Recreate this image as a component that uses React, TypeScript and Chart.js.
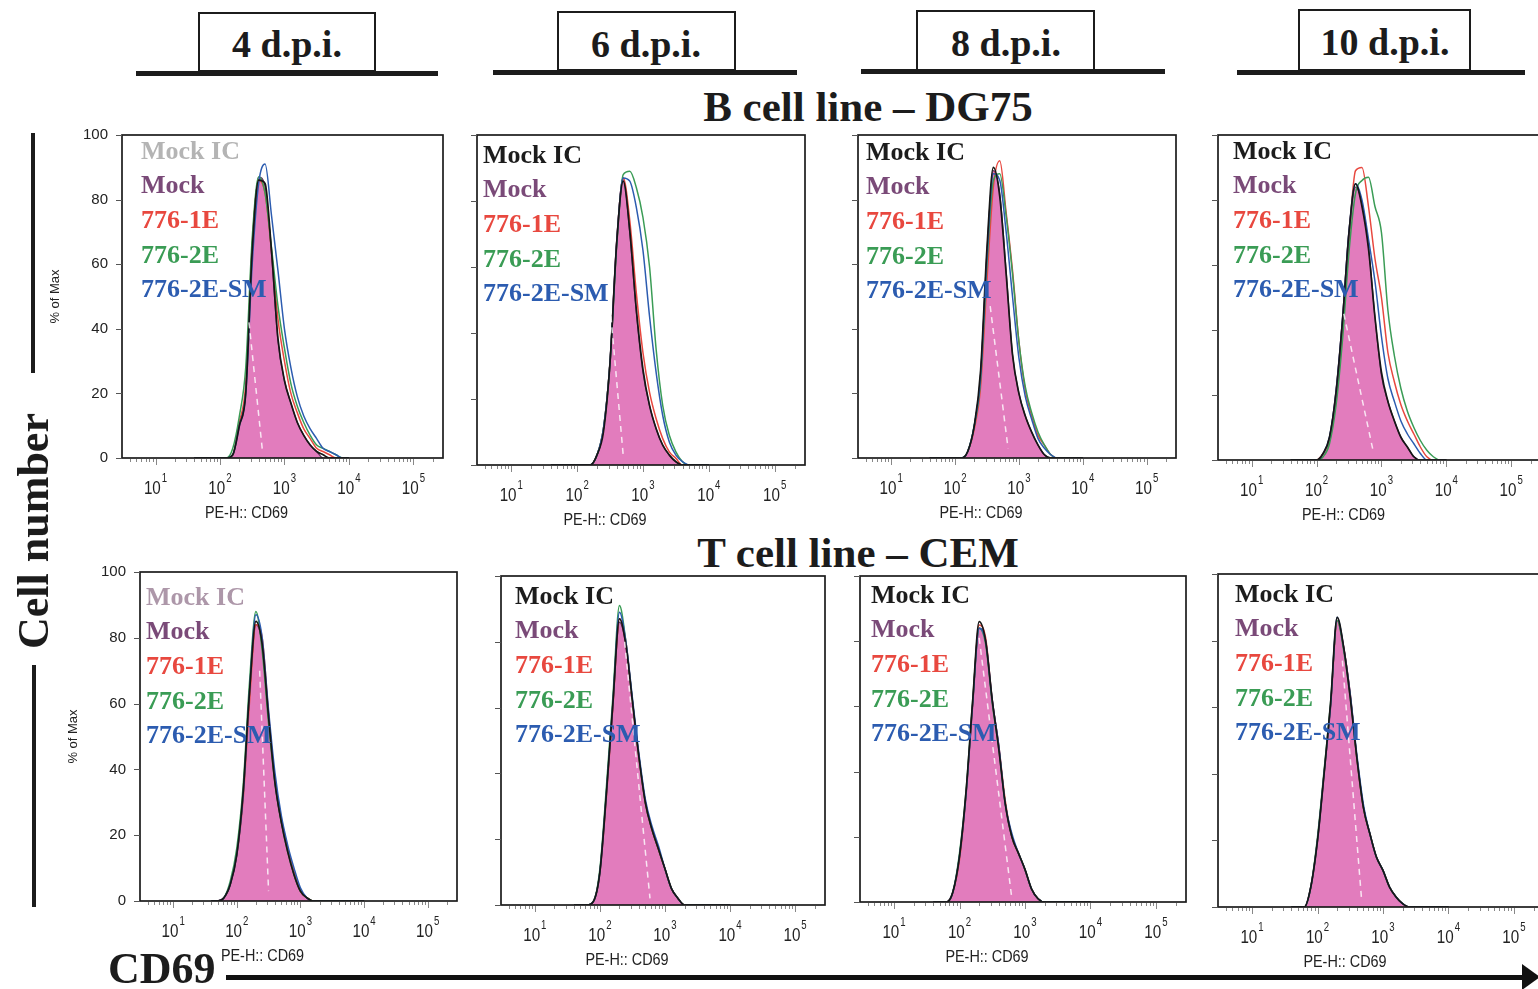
import React, { useEffect, useRef } from 'react';
import { Chart, registerables } from 'chart.js';
Chart.register(...registerables);

// ---------- data ----------
// histogram bin centres (CD69 fluorescence, log spaced)
const XS = [40, 50, 63, 79, 100, 126, 158, 200, 251, 316, 398, 501, 631, 794, 1000, 1259, 1585, 1995, 2512, 3162, 3981, 5012, 6310, 7943, 10000];
const SERIES = ['Mock IC', 'Mock', '776-1E', '776-2E', '776-2E-SM'];
const Y_TICKS = [0, 20, 40, 60, 80, 100];
const X_DECADES = [10, 100, 1000, 10000, 100000];
const X_EXPONENTS = ['1', '2', '3', '4', '5'];
const DAYS = ['4 d.p.i.', '6 d.p.i.', '8 d.p.i.', '10 d.p.i.'];
const ROW_TITLES = ['B cell line – DG75', 'T cell line – CEM'];
const X_TITLE = 'PE-H:: CD69';
const Y_TITLE = '% of Max';

// B cell line DG75
const B4_IC = [0, 0, 0, 0, 0, 0, 1, 10, 20, 64, 86, 85, 64, 37, 24, 17, 11, 7, 4, 2, 1, 0, 0, 0, 0];
const B4_MOCK = [0, 0, 0, 0, 0, 0, 1, 11, 21, 66, 87, 84, 63, 36, 24, 17, 11, 7, 4, 2, 0, 0, 0, 0, 0];
const B4_E1 = [0, 0, 0, 0, 0, 0, 1, 11, 23, 66, 86, 82, 64, 43, 30, 20, 14, 9, 6, 3, 2, 1, 0, 0, 0];
const B4_E2 = [0, 0, 0, 0, 0, 0, 3, 13, 28, 68, 87, 82, 65, 47, 34, 23, 16, 11, 7, 4, 3, 2, 1, 0, 0];
const B4_SM = [0, 0, 0, 0, 0, 0, 1, 10, 20, 60, 85, 91, 75, 58, 40, 28, 19, 13, 9, 6, 3, 2, 1, 0, 0];
const B4_MED = [[282, 42], [457, 2]];

const B6_IC = [0, 0, 0, 0, 0, 0, 0, 3, 10, 31, 67, 86, 71, 47, 29, 18, 11, 6, 3, 1, 0, 0, 0, 0, 0];
const B6_MOCK = [0, 0, 0, 0, 0, 0, 0, 3, 11, 32, 68, 87, 70, 46, 28, 18, 11, 6, 3, 1, 0, 0, 0, 0, 0];
const B6_E1 = [0, 0, 0, 0, 0, 0, 0, 3, 11, 31, 67, 87, 74, 52, 34, 22, 14, 8, 4, 2, 0, 0, 0, 0, 0];
const B6_E2 = [0, 0, 0, 0, 0, 0, 0, 3, 11, 31, 66, 88, 89, 84, 75, 60, 35, 18, 9, 4, 1, 0, 0, 0, 0];
const B6_SM = [0, 0, 0, 0, 0, 0, 0, 3, 11, 31, 67, 87, 86, 78, 65, 45, 28, 15, 7, 3, 1, 0, 0, 0, 0];
const B6_MED = [[295, 55], [501, 3]];

const B8_IC = [0, 0, 0, 0, 0, 0, 2, 10, 27, 65, 90, 81, 57, 32, 20, 13, 8, 4, 1, 0, 0, 0, 0, 0, 0];
const B8_MOCK = [0, 0, 0, 0, 0, 0, 2, 10, 26, 64, 89, 82, 58, 32, 20, 13, 8, 4, 1, 0, 0, 0, 0, 0, 0];
const B8_E1 = [0, 0, 0, 0, 0, 0, 2, 9, 22, 55, 84, 92, 76, 58, 36, 21, 13, 7, 4, 1, 0, 0, 0, 0, 0];
const B8_E2 = [0, 0, 0, 0, 0, 0, 2, 10, 24, 60, 86, 88, 75, 57, 36, 22, 14, 8, 4, 1, 0, 0, 0, 0, 0];
const B8_SM = [0, 0, 0, 0, 0, 0, 2, 10, 25, 62, 88, 86, 70, 50, 31, 19, 12, 6, 3, 1, 0, 0, 0, 0, 0];
const B8_MED = [[355, 47], [676, 3]];

const B10_IC = [0, 0, 0, 0, 0, 2, 7, 21, 43, 70, 85, 78, 65, 44, 27, 18, 12, 7, 4, 1, 0, 0, 0, 0, 0];
const B10_MOCK = [0, 0, 0, 0, 0, 2, 7, 22, 44, 71, 84, 79, 66, 44, 26, 18, 12, 7, 4, 1, 0, 0, 0, 0, 0];
const B10_E1 = [0, 0, 0, 0, 0, 2, 6, 19, 40, 68, 89, 90, 78, 62, 50, 33, 24, 17, 12, 8, 4, 1, 0, 0, 0];
const B10_E2 = [0, 0, 0, 0, 0, 1, 5, 17, 37, 64, 82, 86, 87, 78, 70, 46, 32, 22, 15, 10, 6, 3, 1, 0, 0];
const B10_SM = [0, 0, 0, 0, 0, 2, 7, 21, 43, 70, 85, 80, 68, 55, 38, 25, 18, 12, 8, 5, 2, 0, 0, 0, 0];
const B10_MED = [[263, 45], [759, 2]];

// T cell line CEM
const T4_IC = [0, 0, 1, 5, 14, 33, 63, 85, 78, 56, 36, 24, 15, 8, 3, 1, 0, 0, 0, 0, 0, 0, 0, 0, 0];
const T4_MOCK = [0, 0, 1, 5, 14, 32, 62, 84, 78, 56, 36, 24, 16, 8, 3, 1, 0, 0, 0, 0, 0, 0, 0, 0, 0];
const T4_E1 = [0, 0, 1, 5, 14, 31, 60, 84, 80, 57, 37, 25, 16, 9, 3, 1, 0, 0, 0, 0, 0, 0, 0, 0, 0];
const T4_E2 = [0, 0, 1, 6, 16, 35, 66, 88, 76, 54, 36, 24, 15, 8, 3, 1, 0, 0, 0, 0, 0, 0, 0, 0, 0];
const T4_SM = [0, 0, 1, 5, 14, 32, 63, 87, 80, 58, 39, 26, 17, 10, 4, 1, 0, 0, 0, 0, 0, 0, 0, 0, 0];
const T4_MED = [[229, 70], [316, 3]];

const T6_IC = [0, 0, 0, 1, 10, 34, 61, 87, 79, 62, 45, 31, 23, 17, 11, 5, 2, 0, 0, 0, 0, 0, 0, 0, 0];
const T6_MOCK = [0, 0, 0, 1, 10, 34, 60, 86, 79, 62, 45, 31, 23, 17, 11, 5, 2, 0, 0, 0, 0, 0, 0, 0, 0];
const T6_E1 = [0, 0, 0, 1, 10, 33, 60, 87, 80, 62, 45, 31, 23, 17, 11, 5, 2, 0, 0, 0, 0, 0, 0, 0, 0];
const T6_E2 = [0, 0, 0, 1, 11, 36, 63, 91, 80, 62, 45, 31, 23, 17, 11, 5, 2, 0, 0, 0, 0, 0, 0, 0, 0];
const T6_SM = [0, 0, 0, 1, 10, 34, 61, 89, 80, 63, 46, 32, 24, 18, 11, 5, 2, 0, 0, 0, 0, 0, 0, 0, 0];
const T6_MED = [[240, 80], [589, 2]];

const T8_IC = [0, 0, 0, 3, 14, 34, 61, 86, 80, 62, 47, 30, 20, 15, 10, 4, 1, 0, 0, 0, 0, 0, 0, 0, 0];
const T8_MOCK = [0, 0, 0, 3, 14, 33, 60, 84, 80, 62, 48, 30, 20, 15, 10, 4, 1, 0, 0, 0, 0, 0, 0, 0, 0];
const T8_E1 = [0, 0, 0, 3, 13, 33, 60, 85, 81, 62, 48, 31, 20, 15, 10, 4, 1, 0, 0, 0, 0, 0, 0, 0, 0];
const T8_E2 = [0, 0, 0, 3, 15, 34, 61, 84, 79, 61, 47, 30, 20, 15, 10, 4, 1, 0, 0, 0, 0, 0, 0, 0, 0];
const T8_SM = [0, 0, 0, 3, 14, 33, 60, 84, 80, 62, 48, 30, 21, 15, 10, 4, 1, 0, 0, 0, 0, 0, 0, 0, 0];
const T8_MED = [[200, 81], [631, 1]];

const T10_IC = [0, 0, 0, 6, 20, 40, 61, 87, 78, 63, 45, 30, 22, 15, 11, 6, 3, 1, 0, 0, 0, 0, 0, 0, 0];
const T10_MOCK = [0, 0, 0, 6, 20, 40, 60, 86, 78, 64, 45, 30, 22, 15, 11, 6, 3, 1, 0, 0, 0, 0, 0, 0, 0];
const T10_E1 = [0, 0, 0, 6, 20, 40, 60, 86, 78, 64, 45, 30, 22, 15, 11, 6, 3, 1, 0, 0, 0, 0, 0, 0, 0];
const T10_E2 = [0, 0, 0, 6, 21, 41, 61, 86, 77, 63, 45, 30, 22, 15, 11, 6, 3, 1, 0, 0, 0, 0, 0, 0, 0];
const T10_SM = [0, 0, 0, 6, 20, 40, 60, 87, 78, 64, 46, 31, 22, 15, 11, 6, 3, 1, 0, 0, 0, 0, 0, 0, 0];
const T10_MED = [[240, 74], [468, 3]];

// ---------- styling / layout ----------
const SERIF = '"Liberation Serif", "Times New Roman", serif';
const SANS = '"Liberation Sans", Arial, sans-serif';
const INK = '#1c1c1c';
const COL_MOCK_TEXT = '#7a4a78';
const COL_E1 = '#e8483f';
const COL_E2 = '#3a9c55';
const COL_SM = '#2c5cb0';
const COL_FILL = '#e27cbd';

const PANELS = [
  { box: [122, 135, 443, 458], legend: [141, 152], ic: '#b4b4b4', yLabels: true, d: [B4_IC, B4_MOCK, B4_E1, B4_E2, B4_SM, B4_MED] },
  { box: [477, 135, 805, 465], legend: [483, 156], ic: INK, yLabels: false, d: [B6_IC, B6_MOCK, B6_E1, B6_E2, B6_SM, B6_MED] },
  { box: [858, 135, 1176, 458], legend: [866, 153], ic: INK, yLabels: false, d: [B8_IC, B8_MOCK, B8_E1, B8_E2, B8_SM, B8_MED] },
  { box: [1218, 135, 1541, 460], legend: [1233, 152], ic: INK, yLabels: false, d: [B10_IC, B10_MOCK, B10_E1, B10_E2, B10_SM, B10_MED] },
  { box: [140, 572, 457, 901], legend: [146, 598], ic: '#ad97a9', yLabels: true, d: [T4_IC, T4_MOCK, T4_E1, T4_E2, T4_SM, T4_MED] },
  { box: [501, 576, 825, 905], legend: [515, 597], ic: INK, yLabels: false, d: [T6_IC, T6_MOCK, T6_E1, T6_E2, T6_SM, T6_MED] },
  { box: [860, 576, 1186, 902], legend: [871, 596], ic: INK, yLabels: false, d: [T8_IC, T8_MOCK, T8_E1, T8_E2, T8_SM, T8_MED] },
  { box: [1218, 574, 1544, 907], legend: [1235, 595], ic: INK, yLabels: false, d: [T10_IC, T10_MOCK, T10_E1, T10_E2, T10_SM, T10_MED] },
];

const HEADERS = [
  { box: [198, 12, 178, 60], bar: [136, 71, 302], cx: 287, base: 57 },
  { box: [557, 11, 179, 60], bar: [493, 70, 304], cx: 646, base: 57 },
  { box: [916, 10, 179, 61], bar: [861, 69, 304], cx: 1006, base: 56 },
  { box: [1298, 9, 173, 62], bar: [1237, 70, 288], cx: 1385, base: 55 },
];

const PAD = { left: 92, top: 12, right: 14, bottom: 74 };
const X_MIN = Math.pow(10, 0.48);
const X_MAX = Math.pow(10, 5.46);

const decor = {
  id: 'decor',
  afterDatasetsDraw(chart: any) {
    const { ctx, chartArea: a } = chart;
    ctx.save();
    ctx.strokeStyle = INK;
    ctx.lineWidth = 1.7;
    ctx.strokeRect(a.left, a.top, a.right - a.left, a.bottom - a.top);
    ctx.restore();
  },
  afterDraw(chart: any, _args: any, opts: any) {
    const { ctx, chartArea: a } = chart;
    const x = chart.scales.x;
    const y = chart.scales.y;
    ctx.save();
    // y tick marks
    ctx.strokeStyle = '#555';
    ctx.lineWidth = 1;
    Y_TICKS.forEach((v) => {
      const py = Math.round(y.getPixelForValue(v)) + 0.5;
      ctx.beginPath();
      ctx.moveTo(a.left - 6, py);
      ctx.lineTo(a.left, py);
      ctx.stroke();
    });
    if (opts.yLabels) {
      ctx.fillStyle = '#222';
      ctx.font = `15px ${SANS}`;
      ctx.textAlign = 'right';
      ctx.textBaseline = 'middle';
      Y_TICKS.forEach((v) => ctx.fillText(String(v), a.left - 14, y.getPixelForValue(v)));
      ctx.save();
      ctx.translate(a.left - 67, (a.top + a.bottom) / 2);
      ctx.rotate(-Math.PI / 2);
      ctx.textAlign = 'center';
      ctx.font = `13px ${SANS}`;
      ctx.fillText(Y_TITLE, 0, 0);
      ctx.restore();
    }
    // x tick marks (decades + minor)
    ctx.strokeStyle = '#888';
    for (let e = 0; e <= 5; e++) {
      for (let m = 1; m <= 9; m++) {
        const v = m * Math.pow(10, e);
        if (v < X_MIN || v > X_MAX) continue;
        const px = Math.round(x.getPixelForValue(v)) + 0.5;
        ctx.beginPath();
        ctx.moveTo(px, a.bottom + 1);
        ctx.lineTo(px, a.bottom + (m === 1 ? 7 : 4));
        ctx.stroke();
      }
    }
    // x tick labels 10^n
    ctx.fillStyle = '#222';
    ctx.textBaseline = 'alphabetic';
    ctx.textAlign = 'left';
    const sx = 0.8;
    X_DECADES.forEach((v, i) => {
      const px = x.getPixelForValue(v);
      ctx.font = `19px ${SANS}`;
      const w1 = ctx.measureText('10').width * sx;
      ctx.font = `12px ${SANS}`;
      const w2 = ctx.measureText(X_EXPONENTS[i]).width * sx;
      const start = px - (w1 + w2 + 1) / 2;
      ctx.save();
      ctx.translate(start, a.bottom + 36);
      ctx.scale(sx, 1);
      ctx.font = `19px ${SANS}`;
      ctx.fillText('10', 0, 0);
      ctx.restore();
      ctx.save();
      ctx.translate(start + w1 + 1, a.bottom + 24);
      ctx.scale(sx, 1);
      ctx.font = `12px ${SANS}`;
      ctx.fillText(X_EXPONENTS[i], 0, 0);
      ctx.restore();
    });
    // x title
    ctx.save();
    ctx.translate((a.left + a.right) / 2 + opts.titleShift, a.bottom + 56);
    ctx.scale(0.9, 1);
    ctx.font = `16px ${SANS}`;
    ctx.textAlign = 'center';
    ctx.textBaseline = 'middle';
    ctx.fillText(X_TITLE, 0, 0);
    ctx.restore();
    // legend texts
    ctx.font = `bold 26px ${SERIF}`;
    ctx.textAlign = 'left';
    ctx.textBaseline = 'middle';
    const colors = [opts.icColor, COL_MOCK_TEXT, COL_E1, COL_E2, COL_SM];
    SERIES.forEach((s, i) => {
      ctx.fillStyle = colors[i];
      ctx.fillText(s, a.left + opts.legendDx, a.top + opts.legendDy + i * 34.6);
    });
    ctx.restore();
  },
};

function pts(arr: number[]) {
  return XS.map((x, i) => ({ x, y: arr[i] }));
}

function Panel({ p }: { p: any }) {
  const ref = useRef<HTMLCanvasElement>(null);
  const [l, t, r, b] = p.box;
  const W = r - l + PAD.left + PAD.right;
  const H = b - t + PAD.top + PAD.bottom;
  useEffect(() => {
    const [ic, mock, e1, e2, sm, med] = p.d;
    const line = (data: any, color: string, order: number, width = 1.5) => ({
      data,
      borderColor: color,
      borderWidth: width,
      pointRadius: 0,
      fill: false,
      cubicInterpolationMode: 'monotone',
      order,
    });
    const chart = new Chart(ref.current as HTMLCanvasElement, {
      type: 'line',
      data: {
        datasets: [
          { label: SERIES[0], ...line(pts(ic), '#161616', 1, 1.7) },
          { label: SERIES[4], ...line(pts(sm), COL_SM, 2) },
          { label: SERIES[3], ...line(pts(e2), COL_E2, 3) },
          { label: SERIES[2], ...line(pts(e1), COL_E1, 4) },
          {
            label: SERIES[1],
            ...line(pts(mock), '#5a2e57', 5, 1.2),
            fill: 'origin',
            backgroundColor: COL_FILL,
          },
          {
            label: 'median',
            data: med.map((q: number[]) => ({ x: q[0], y: q[1] })),
            borderColor: 'rgba(255,255,255,0.8)',
            borderWidth: 1.5,
            borderDash: [6, 5],
            pointRadius: 0,
            fill: false,
            order: 0,
          },
        ] as any,
      },
      options: {
        animation: false,
        responsive: false,
        maintainAspectRatio: false,
        devicePixelRatio: 1,
        events: [],
        layout: { padding: PAD },
        scales: {
          x: { type: 'logarithmic', min: X_MIN, max: X_MAX, display: false },
          y: { type: 'linear', min: 0, max: 100, display: false },
        },
        plugins: {
          legend: { display: false },
          tooltip: { enabled: false },
          decor: {
            yLabels: p.yLabels,
            icColor: p.ic,
            legendDx: p.legend[0] - l,
            legendDy: p.legend[1] - t,
            titleShift: -36,
          },
        } as any,
      },
      plugins: [decor],
    });
    return () => chart.destroy();
  }, []);
  return (
    <canvas
      ref={ref}
      width={W}
      height={H}
      style={{ position: 'absolute', left: l - PAD.left, top: t - PAD.top, width: W, height: H }}
    />
  );
}

// top offset so that the text baseline lands on `base` (Liberation Serif metrics)
function serifTop(base: number, fs: number, lh: number) {
  return base - ((lh - 1.107 * fs) / 2 + 0.891 * fs);
}

export default function App() {
  const bold = (fs: number): React.CSSProperties => ({
    fontFamily: SERIF,
    fontWeight: 'bold',
    fontSize: fs,
    lineHeight: `${Math.round(fs * 1.2)}px`,
    color: INK,
    whiteSpace: 'nowrap',
    position: 'absolute',
  });
  return (
    <div
      style={{
        position: 'absolute',
        left: 0,
        top: 0,
        width: 1538,
        height: 989,
        overflow: 'hidden',
        background: '#fff',
      }}
    >
      {HEADERS.map((h, i) => (
        <React.Fragment key={i}>
          <div
            style={{
              position: 'absolute',
              left: h.box[0],
              top: h.box[1],
              width: h.box[2],
              height: h.box[3],
              border: `2px solid ${INK}`,
              boxSizing: 'border-box',
            }}
          />
          <div style={{ position: 'absolute', left: h.bar[0], top: h.bar[1], width: h.bar[2], height: 5, background: INK }} />
          <div
            style={{
              ...bold(38),
              left: h.cx - 150,
              width: 300,
              textAlign: 'center',
              top: serifTop(h.base, 38, 46),
            }}
          >
            {DAYS[i]}
          </div>
        </React.Fragment>
      ))}
      <div style={{ ...bold(43), left: 618, width: 500, textAlign: 'center', top: serifTop(122, 43, 52) }}>{ROW_TITLES[0]}</div>
      <div style={{ ...bold(43), left: 608, width: 500, textAlign: 'center', top: serifTop(568, 43, 52) }}>{ROW_TITLES[1]}</div>

      {PANELS.map((p, i) => (
        <Panel key={i} p={p} />
      ))}

      {/* Cell number axis */}
      <div style={{ position: 'absolute', left: 31, top: 133, width: 4, height: 240, background: INK }} />
      <div style={{ position: 'absolute', left: 32, top: 665, width: 4, height: 242, background: INK }} />
      <div
        style={{
          ...bold(44),
          left: 34 - 150,
          top: 531 - 26,
          width: 300,
          height: 52,
          lineHeight: '52px',
          textAlign: 'center',
          transform: 'rotate(-90deg)',
        }}
      >
        Cell number
      </div>

      {/* CD69 axis */}
      <div style={{ ...bold(44), left: 108, top: serifTop(983, 44, 53) }}>CD69</div>
      <div style={{ position: 'absolute', left: 226, top: 975, width: 1300, height: 5, background: '#111' }} />
      <div
        style={{
          position: 'absolute',
          left: 1522,
          top: 964,
          width: 0,
          height: 0,
          borderTop: '13px solid transparent',
          borderBottom: '13px solid transparent',
          borderLeft: '18px solid #111',
        }}
      />
    </div>
  );
}
